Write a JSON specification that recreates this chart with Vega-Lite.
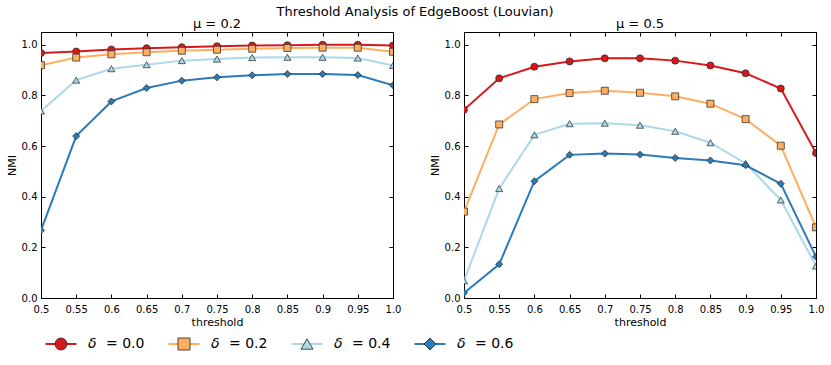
{
  "$schema": "https://vega.github.io/schema/vega-lite/v6.json",
  "background": "white",
  "padding": {"left": 5, "top": 6, "right": 5, "bottom": 5},
  "title": {"text": "Threshold Analysis of EdgeBoost (Louvian)", "fontSize": 13, "fontWeight": "normal", "font": "DejaVu Sans", "anchor": "middle", "color": "#000", "offset": -2},
  "config": {
    "view": {"stroke": "#000", "strokeWidth": 1},
    "font": "DejaVu Sans",
    "axis": {"grid": false, "domain": false, "tickColor": "#000", "tickSize": -4, "labelPadding": 8, "labelFont": "DejaVu Sans", "labelFontSize": 10, "labelColor": "#000", "titleFont": "DejaVu Sans", "titleFontSize": 11, "titleFontWeight": "normal", "titleColor": "#000", "labelOverlap": false, "labelFlush": false},
    "title": {"font": "DejaVu Sans", "fontWeight": "normal", "color": "#000"}
  },
  "datasets": {
    "nmi": [
      {"mu": 0.2, "delta": "0.0", "t": 0.5, "nmi": 0.967}, {"mu": 0.2, "delta": "0.0", "t": 0.55, "nmi": 0.973}, {"mu": 0.2, "delta": "0.0", "t": 0.6, "nmi": 0.981}, {"mu": 0.2, "delta": "0.0", "t": 0.65, "nmi": 0.986}, {"mu": 0.2, "delta": "0.0", "t": 0.7, "nmi": 0.99}, {"mu": 0.2, "delta": "0.0", "t": 0.75, "nmi": 0.994}, {"mu": 0.2, "delta": "0.0", "t": 0.8, "nmi": 0.997}, {"mu": 0.2, "delta": "0.0", "t": 0.85, "nmi": 0.998}, {"mu": 0.2, "delta": "0.0", "t": 0.9, "nmi": 1.0}, {"mu": 0.2, "delta": "0.0", "t": 0.95, "nmi": 1.0}, {"mu": 0.2, "delta": "0.0", "t": 1.0, "nmi": 0.997},
      {"mu": 0.2, "delta": "0.2", "t": 0.5, "nmi": 0.919}, {"mu": 0.2, "delta": "0.2", "t": 0.55, "nmi": 0.949}, {"mu": 0.2, "delta": "0.2", "t": 0.6, "nmi": 0.962}, {"mu": 0.2, "delta": "0.2", "t": 0.65, "nmi": 0.97}, {"mu": 0.2, "delta": "0.2", "t": 0.7, "nmi": 0.976}, {"mu": 0.2, "delta": "0.2", "t": 0.75, "nmi": 0.98}, {"mu": 0.2, "delta": "0.2", "t": 0.8, "nmi": 0.984}, {"mu": 0.2, "delta": "0.2", "t": 0.85, "nmi": 0.987}, {"mu": 0.2, "delta": "0.2", "t": 0.9, "nmi": 0.988}, {"mu": 0.2, "delta": "0.2", "t": 0.95, "nmi": 0.988}, {"mu": 0.2, "delta": "0.2", "t": 1.0, "nmi": 0.972},
      {"mu": 0.2, "delta": "0.4", "t": 0.5, "nmi": 0.738}, {"mu": 0.2, "delta": "0.4", "t": 0.55, "nmi": 0.86}, {"mu": 0.2, "delta": "0.4", "t": 0.6, "nmi": 0.905}, {"mu": 0.2, "delta": "0.4", "t": 0.65, "nmi": 0.921}, {"mu": 0.2, "delta": "0.4", "t": 0.7, "nmi": 0.937}, {"mu": 0.2, "delta": "0.4", "t": 0.75, "nmi": 0.943}, {"mu": 0.2, "delta": "0.4", "t": 0.8, "nmi": 0.949}, {"mu": 0.2, "delta": "0.4", "t": 0.85, "nmi": 0.95}, {"mu": 0.2, "delta": "0.4", "t": 0.9, "nmi": 0.95}, {"mu": 0.2, "delta": "0.4", "t": 0.95, "nmi": 0.947}, {"mu": 0.2, "delta": "0.4", "t": 1.0, "nmi": 0.918},
      {"mu": 0.2, "delta": "0.6", "t": 0.5, "nmi": 0.267}, {"mu": 0.2, "delta": "0.6", "t": 0.55, "nmi": 0.639}, {"mu": 0.2, "delta": "0.6", "t": 0.6, "nmi": 0.776}, {"mu": 0.2, "delta": "0.6", "t": 0.65, "nmi": 0.829}, {"mu": 0.2, "delta": "0.6", "t": 0.7, "nmi": 0.858}, {"mu": 0.2, "delta": "0.6", "t": 0.75, "nmi": 0.871}, {"mu": 0.2, "delta": "0.6", "t": 0.8, "nmi": 0.879}, {"mu": 0.2, "delta": "0.6", "t": 0.85, "nmi": 0.884}, {"mu": 0.2, "delta": "0.6", "t": 0.9, "nmi": 0.884}, {"mu": 0.2, "delta": "0.6", "t": 0.95, "nmi": 0.88}, {"mu": 0.2, "delta": "0.6", "t": 1.0, "nmi": 0.84},
      {"mu": 0.5, "delta": "0.0", "t": 0.5, "nmi": 0.743}, {"mu": 0.5, "delta": "0.0", "t": 0.55, "nmi": 0.867}, {"mu": 0.5, "delta": "0.0", "t": 0.6, "nmi": 0.913}, {"mu": 0.5, "delta": "0.0", "t": 0.65, "nmi": 0.934}, {"mu": 0.5, "delta": "0.0", "t": 0.7, "nmi": 0.946}, {"mu": 0.5, "delta": "0.0", "t": 0.75, "nmi": 0.946}, {"mu": 0.5, "delta": "0.0", "t": 0.8, "nmi": 0.937}, {"mu": 0.5, "delta": "0.0", "t": 0.85, "nmi": 0.918}, {"mu": 0.5, "delta": "0.0", "t": 0.9, "nmi": 0.887}, {"mu": 0.5, "delta": "0.0", "t": 0.95, "nmi": 0.827}, {"mu": 0.5, "delta": "0.0", "t": 1.0, "nmi": 0.572},
      {"mu": 0.5, "delta": "0.2", "t": 0.5, "nmi": 0.341}, {"mu": 0.5, "delta": "0.2", "t": 0.55, "nmi": 0.685}, {"mu": 0.5, "delta": "0.2", "t": 0.6, "nmi": 0.785}, {"mu": 0.5, "delta": "0.2", "t": 0.65, "nmi": 0.809}, {"mu": 0.5, "delta": "0.2", "t": 0.7, "nmi": 0.818}, {"mu": 0.5, "delta": "0.2", "t": 0.75, "nmi": 0.81}, {"mu": 0.5, "delta": "0.2", "t": 0.8, "nmi": 0.796}, {"mu": 0.5, "delta": "0.2", "t": 0.85, "nmi": 0.767}, {"mu": 0.5, "delta": "0.2", "t": 0.9, "nmi": 0.706}, {"mu": 0.5, "delta": "0.2", "t": 0.95, "nmi": 0.601}, {"mu": 0.5, "delta": "0.2", "t": 1.0, "nmi": 0.279},
      {"mu": 0.5, "delta": "0.4", "t": 0.5, "nmi": 0.068}, {"mu": 0.5, "delta": "0.4", "t": 0.55, "nmi": 0.432}, {"mu": 0.5, "delta": "0.4", "t": 0.6, "nmi": 0.644}, {"mu": 0.5, "delta": "0.4", "t": 0.65, "nmi": 0.688}, {"mu": 0.5, "delta": "0.4", "t": 0.7, "nmi": 0.69}, {"mu": 0.5, "delta": "0.4", "t": 0.75, "nmi": 0.682}, {"mu": 0.5, "delta": "0.4", "t": 0.8, "nmi": 0.658}, {"mu": 0.5, "delta": "0.4", "t": 0.85, "nmi": 0.613}, {"mu": 0.5, "delta": "0.4", "t": 0.9, "nmi": 0.531}, {"mu": 0.5, "delta": "0.4", "t": 0.95, "nmi": 0.387}, {"mu": 0.5, "delta": "0.4", "t": 1.0, "nmi": 0.126},
      {"mu": 0.5, "delta": "0.6", "t": 0.5, "nmi": 0.02}, {"mu": 0.5, "delta": "0.6", "t": 0.55, "nmi": 0.133}, {"mu": 0.5, "delta": "0.6", "t": 0.6, "nmi": 0.461}, {"mu": 0.5, "delta": "0.6", "t": 0.65, "nmi": 0.565}, {"mu": 0.5, "delta": "0.6", "t": 0.7, "nmi": 0.57}, {"mu": 0.5, "delta": "0.6", "t": 0.75, "nmi": 0.566}, {"mu": 0.5, "delta": "0.6", "t": 0.8, "nmi": 0.553}, {"mu": 0.5, "delta": "0.6", "t": 0.85, "nmi": 0.543}, {"mu": 0.5, "delta": "0.6", "t": 0.9, "nmi": 0.524}, {"mu": 0.5, "delta": "0.6", "t": 0.95, "nmi": 0.451}, {"mu": 0.5, "delta": "0.6", "t": 1.0, "nmi": 0.163}
    ],
    "series": [
      {"delta": "0.0", "label": "= 0.0"},
      {"delta": "0.2", "label": "= 0.2"},
      {"delta": "0.4", "label": "= 0.4"},
      {"delta": "0.6", "label": "= 0.6"}
    ]
  },
  "resolve": {"scale": {"size": "independent", "x": "independent"}},
  "spacing": 6,
  "vconcat": [
    {
      "spacing": 26,
      "hconcat": [
        {
          "title": {"text": "μ = 0.2", "fontSize": 13, "offset": 1},
          "width": 352, "height": 266,
          "data": {"name": "nmi"},
          "transform": [{"filter": "datum.mu == 0.2"}],
          "resolve": {"axis": {"x": "independent", "y": "independent"}},
          "layer": [
            {
              "mark": {"type": "line", "strokeWidth": 2, "clip": true},
              "encoding": {
                "x": {"field": "t", "type": "quantitative", "scale": {"domain": [0.5, 1.0], "nice": false, "zero": false}, "axis": {"orient": "bottom", "values": [0.5, 0.55, 0.6, 0.65, 0.7, 0.75, 0.8, 0.85, 0.9, 0.95, 1.0], "labelExpr": "datum.value == 1 ? '1.0' : format(datum.value, '~g')", "title": "threshold", "titlePadding": 2, "labelPadding": 10}},
                "y": {"field": "nmi", "type": "quantitative", "scale": {"domain": [0, 1.05], "nice": false}, "axis": {"values": [0, 0.2, 0.4, 0.6, 0.8, 1.0], "format": ".1f", "title": "NMI", "titlePadding": 4}},
                "color": {"field": "delta", "type": "nominal", "scale": {"domain": ["0.0", "0.2", "0.4", "0.6"], "range": ["#d7191c", "#fdae61", "#abd9e9", "#2c7bb6"]}, "legend": null}
              }
            },
            {
              "mark": {"type": "point", "filled": true, "opacity": 1, "stroke": "#222", "strokeWidth": 0.7, "clip": true},
              "encoding": {
                "x": {"field": "t", "type": "quantitative", "axis": {"orient": "top", "values": [0.5, 0.55, 0.6, 0.65, 0.7, 0.75, 0.8, 0.85, 0.9, 0.95, 1.0], "labels": false, "title": null}},
                "y": {"field": "nmi", "type": "quantitative", "axis": {"orient": "right", "values": [0, 0.2, 0.4, 0.6, 0.8, 1.0], "labels": false, "title": null}},
                "fill": {"field": "delta", "type": "nominal", "scale": {"domain": ["0.0", "0.2", "0.4", "0.6"], "range": ["#d7191c", "#fdae61", "#abd9e9", "#2c7bb6"]}, "legend": null},
                "shape": {"field": "delta", "type": "nominal", "scale": {"domain": ["0.0", "0.2", "0.4", "0.6"], "range": ["circle", "square", "triangle-up", "diamond"]}, "legend": null},
                "size": {"field": "delta", "type": "nominal", "scale": {"domain": ["0.0", "0.2", "0.4", "0.6"], "range": [49, 49, 45, 70]}, "legend": null}
              }
            }
          ]
        },
        {
          "title": {"text": "μ = 0.5", "fontSize": 13, "offset": 1},
          "width": 352, "height": 266,
          "data": {"name": "nmi"},
          "transform": [{"filter": "datum.mu == 0.5"}],
          "resolve": {"axis": {"x": "independent", "y": "independent"}},
          "layer": [
            {
              "mark": {"type": "line", "strokeWidth": 2, "clip": true},
              "encoding": {
                "x": {"field": "t", "type": "quantitative", "scale": {"domain": [0.5, 1.0], "nice": false, "zero": false}, "axis": {"orient": "bottom", "values": [0.5, 0.55, 0.6, 0.65, 0.7, 0.75, 0.8, 0.85, 0.9, 0.95, 1.0], "labelExpr": "datum.value == 1 ? '1.0' : format(datum.value, '~g')", "title": "threshold", "titlePadding": 2, "labelPadding": 10}},
                "y": {"field": "nmi", "type": "quantitative", "scale": {"domain": [0, 1.05], "nice": false}, "axis": {"values": [0, 0.2, 0.4, 0.6, 0.8, 1.0], "format": ".1f", "title": "NMI", "titlePadding": 4}},
                "color": {"field": "delta", "type": "nominal", "scale": {"domain": ["0.0", "0.2", "0.4", "0.6"], "range": ["#d7191c", "#fdae61", "#abd9e9", "#2c7bb6"]}, "legend": null}
              }
            },
            {
              "mark": {"type": "point", "filled": true, "opacity": 1, "stroke": "#222", "strokeWidth": 0.7, "clip": true},
              "encoding": {
                "x": {"field": "t", "type": "quantitative", "axis": {"orient": "top", "values": [0.5, 0.55, 0.6, 0.65, 0.7, 0.75, 0.8, 0.85, 0.9, 0.95, 1.0], "labels": false, "title": null}},
                "y": {"field": "nmi", "type": "quantitative", "axis": {"orient": "right", "values": [0, 0.2, 0.4, 0.6, 0.8, 1.0], "labels": false, "title": null}},
                "fill": {"field": "delta", "type": "nominal", "scale": {"domain": ["0.0", "0.2", "0.4", "0.6"], "range": ["#d7191c", "#fdae61", "#abd9e9", "#2c7bb6"]}, "legend": null},
                "shape": {"field": "delta", "type": "nominal", "scale": {"domain": ["0.0", "0.2", "0.4", "0.6"], "range": ["circle", "square", "triangle-up", "diamond"]}, "legend": null},
                "size": {"field": "delta", "type": "nominal", "scale": {"domain": ["0.0", "0.2", "0.4", "0.6"], "range": [49, 49, 45, 70]}, "legend": null}
              }
            }
          ]
        }
      ]
    },
    {
      "width": 409, "height": 20,
      "view": {"stroke": null},
      "data": {"name": "series"},
      "encoding": {
        "x": {"field": "delta", "type": "nominal", "scale": {"type": "point", "padding": 0.1626}, "axis": null}
      },
      "layer": [
        {"mark": {"type": "point", "shape": "M-1,0H1", "size": 961, "strokeWidth": 2, "filled": false, "opacity": 1},
         "encoding": {"color": {"field": "delta", "type": "nominal", "scale": {"domain": ["0.0", "0.2", "0.4", "0.6"], "range": ["#d7191c", "#fdae61", "#abd9e9", "#2c7bb6"]}, "legend": null}}},
        {"mark": {"type": "point", "filled": true, "opacity": 1, "stroke": "#222", "strokeWidth": 0.8},
         "encoding": {
           "fill": {"field": "delta", "type": "nominal", "scale": {"domain": ["0.0", "0.2", "0.4", "0.6"], "range": ["#d7191c", "#fdae61", "#abd9e9", "#2c7bb6"]}, "legend": null},
           "shape": {"field": "delta", "type": "nominal", "scale": {"domain": ["0.0", "0.2", "0.4", "0.6"], "range": ["circle", "square", "triangle-up", "diamond"]}, "legend": null},
           "size": {"field": "delta", "type": "nominal", "scale": {"domain": ["0.0", "0.2", "0.4", "0.6"], "range": [144, 144, 130, 200]}, "legend": null}
         }},
        {"mark": {"type": "text", "align": "left", "baseline": "middle", "dx": 27, "fontSize": 14, "fontStyle": "italic", "text": "δ", "color": "#000"}, "encoding": {}},
        {"mark": {"type": "text", "align": "left", "baseline": "middle", "dx": 45, "fontSize": 14, "color": "#000"}, "encoding": {"text": {"field": "label"}}}
      ]
    }
  ]
}
